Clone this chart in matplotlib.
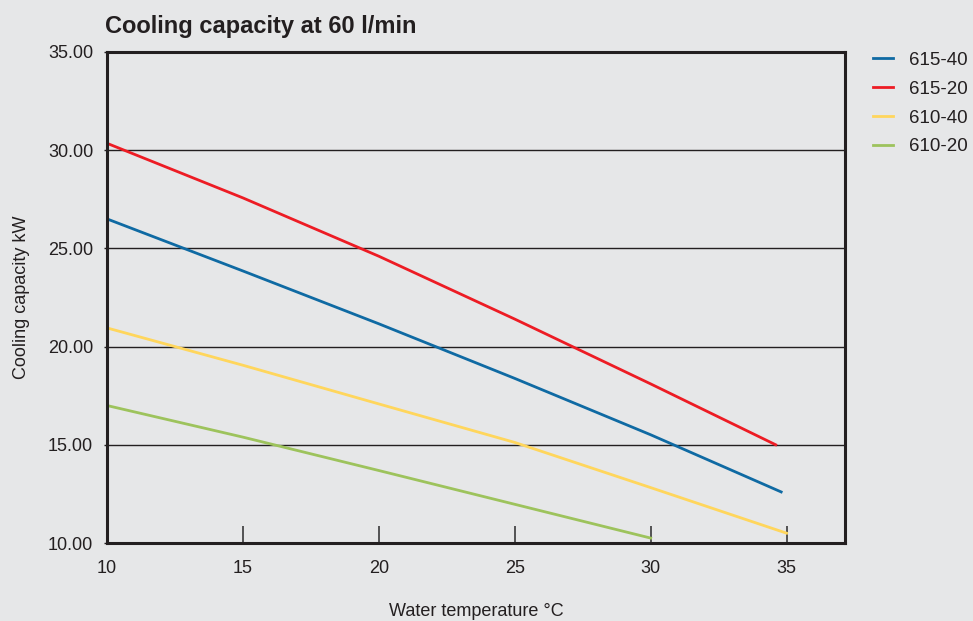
import matplotlib
matplotlib.use('Agg')
import matplotlib.pyplot as plt

plt.rcParams['font.family'] = ['Liberation Sans', 'DejaVu Sans']

# water temperature (deg C) and cooling capacity (kW)
temp_615_40 = [10, 15, 20, 25, 30, 34.8]
cap_615_40 = [26.5, 23.85, 21.16, 18.38, 15.51, 12.6]
temp_615_20 = [10, 15, 20, 25, 30, 34.6]
cap_615_20 = [30.35, 27.57, 24.6, 21.4, 18.1, 15.0]
temp_610_40 = [10, 15, 20, 25, 30, 35]
cap_610_40 = [20.95, 19.05, 17.08, 15.12, 12.82, 10.5]
temp_610_20 = [10, 15, 20, 25, 30]
cap_610_20 = [17.0, 15.39, 13.69, 11.97, 10.25]

x_ticks = [10, 15, 20, 25, 30, 35]
y_ticks = [10, 15, 20, 25, 30, 35]

bg = '#e6e7e8'
txt = '#231f20'

fig = plt.figure(figsize=(9.73, 6.21), dpi=100, facecolor=bg)
ax = fig.add_axes([0.110, 0.1256, 0.7585, 0.7907], facecolor=bg)

ax.plot(temp_615_40, cap_615_40, color='#0f6aa3', lw=2.0, label='615-40')
ax.plot(temp_615_20, cap_615_20, color='#ed1c24', lw=2.0, label='615-20')
ax.plot(temp_610_40, cap_610_40, color='#ffd65c', lw=2.0, label='610-40')
ax.plot(temp_610_20, cap_610_20, color='#9dc35c', lw=2.0, label='610-20')

ax.set_xlim(10, 37.15)
ax.set_ylim(10, 35)
ax.set_xticks(x_ticks)
ax.set_yticks(y_ticks)
ax.set_yticklabels(['%.2f' % v for v in y_ticks])
ax.grid(axis='y', color='#231f20', lw=1.0)
ax.set_axisbelow(True)

for s in ax.spines.values():
    s.set_linewidth(2.2)
    s.set_color(txt)

ax.tick_params(axis='x', direction='in', length=12, width=1.2, color='#3a3a3a',
               labelsize=13, labelcolor=txt, pad=12)
ax.tick_params(axis='y', direction='out', length=2, width=1, color=txt,
               labelsize=13, labelcolor=txt, pad=8)

ax.set_xlabel('Water temperature °C', fontsize=13, color=txt, labelpad=19)
ax.set_ylabel('Cooling capacity kW', fontsize=13, color=txt, labelpad=13)
ax.set_title('Cooling capacity at 60 l/min', loc='left', fontsize=17,
             fontweight='bold', color=txt, pad=14, x=-0.003)

fig.legend(loc='upper left', bbox_to_anchor=(0.897, 0.917), frameon=False,
           fontsize=13.5, handlelength=1.07, labelspacing=0.63,
           handletextpad=0.85, borderpad=0, borderaxespad=0, labelcolor=txt)

fig.savefig('out.png', dpi=100, facecolor=bg)
